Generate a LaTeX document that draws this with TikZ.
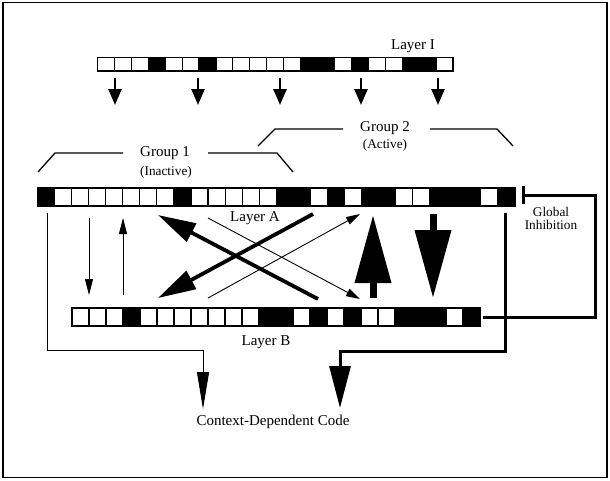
\documentclass[tikz,border=0pt]{standalone}
\usepackage{fontspec}
\setmainfont{Liberation Serif}
\usetikzlibrary{arrows.meta}
\colorlet{c0}{white}
\colorlet{c1}{black}
\newcommand\drawcellrow[5]{%
  \foreach \v [count=\i from 0] in {#5} {
    \filldraw[fill=c\v, draw=black, line width=1.1pt] ({#1+\i*#3},#2) rectangle ++(#3,#4);
  }%
}
\begin{document}
\begin{tikzpicture}[x=1pt,y=-1pt,
  lbl/.style={font=\fontsize{15}{17}\selectfont, inner sep=0pt},
  sml/.style={font=\fontsize{13.3}{14.5}\selectfont, inner sep=0pt},
  rowbox/.style={draw, line width=1.6pt, inner sep=0pt, outer sep=0pt, anchor=north west},
  brk/.style={line width=1.3pt},
  inarr/.style={line width=2.5pt, -{Triangle[length=16pt,width=13pt]}},
  thinarr/.style={line width=0.8pt, -{Triangle[length=16pt,width=8pt]}},
  xthin/.style={line width=0.9pt, -{Triangle[length=14pt,width=8pt]}},
  xthick/.style={line width=3.8pt, -{Triangle[length=38pt,width=20pt]}},
  bigarr/.style={line width=7pt, -{Triangle[length=68pt,width=35pt]}},
  outthin/.style={line width=1pt, -{Triangle[length=37pt,width=12pt]}},
  outthick/.style={line width=3pt, -{Triangle[length=42pt,width=21pt]}},
  inhib/.style={line width=3pt, -{Bar[width=18pt]}},
]
\useasboundingbox (0,0) rectangle (610,480);
\draw[line width=1.3pt] (3,2.5) rectangle (607,477.5);

% Layer I
\drawcellrow{97.3}{57.3}{16.95}{13.5}{0,0,0,1,0,0,1,0,0,0,0,0,1,1,0,1,0,0,1,1,0}
\node[rowbox, minimum width=355.95pt, minimum height=13.5pt] (layerI) at (97.3,57.3) {};
\node[lbl] (labI) at (413,46) {Layer I};

% Layer A
\drawcellrow{37.5}{188}{17.05}{18}{1,0,0,0,0,0,0,0,1,0,0,0,0,0,1,1,0,1,0,1,1,0,0,1,1,1,0,1}
\node[rowbox, minimum width=477.4pt, minimum height=18pt] (layerA) at (37.5,188) {};
\node[lbl] (labA) at (255,218) {Layer A};

% Layer B
\drawcellrow{72}{308}{17}{18}{0,0,0,1,0,0,0,0,0,0,0,1,1,0,1,0,1,0,0,1,1,1,0,1}
\node[rowbox, minimum width=408pt, minimum height=18pt] (layerB) at (72,308) {};
\node[lbl] (labB) at (266,342) {Layer B};

% arrows from Layer I
\foreach \x [count=\k] in {115,198,280,361,438} {
  \coordinate (is\k) at (\x,78);
  \coordinate (ie\k) at (\x,105);
  \draw[inarr] (is\k) -- (ie\k);
}

% Groups
\node[lbl] (g1) at (165,153) {Group 1};
\node[sml] (g1s) at (166,172) {(Inactive)};
\draw[brk] (38,172) -- (55,153) -- (123,153);
\draw[brk] (208,153) -- (277,153) -- (293,172);
\node[lbl] (g2) at (385,128) {Group 2};
\node[sml] (g2s) at (385,145) {(Active)};
\draw[brk] (258,146) -- (275,129) -- (343,129);
\draw[brk] (430,129) -- (497,129) -- (513,146);

% left thin vertical arrows
\coordinate (d1) at (89,218); \coordinate (d2) at (89,295);
\coordinate (u1) at (123,295); \coordinate (u2) at (123,218);
\draw[thinarr] (d1) -- (d2);
\draw[thinarr] (u1) -- (u2);

% crossing thick arrows
\coordinate (ta1) at (313,214); \coordinate (ta2) at (158,298);
\coordinate (tb1) at (318,299); \coordinate (tb2) at (158,215);
\draw[xthick] (ta1) -- (ta2);
\draw[xthick] (tb1) -- (tb2);

% crossing thin arrows
\coordinate (na1) at (208,218); \coordinate (na2) at (360,299);
\coordinate (nb1) at (208,298); \coordinate (nb2) at (360,214);
\draw[xthin] (na1) -- (na2);
\draw[xthin] (nb1) -- (nb2);

% big vertical arrows
\coordinate (bu1) at (373,298); \coordinate (bu2) at (373,215);
\coordinate (bd1) at (433,214); \coordinate (bd2) at (433,298);
\draw[bigarr] (bu1) -- (bu2);
\draw[bigarr] (bd1) -- (bd2);

% Global inhibition
\node[sml, align=center] (ginh) at (551,218.5) {Global\\[-1pt]Inhibition};
\coordinate (gi1) at (483,317);
\coordinate (gi2) at (522,195);
\draw[inhib] (gi1) -- (595,317) -- (595,195) -- (gi2);

% Context-dependent code
\node[lbl] (ctx) at (273,422) {Context-Dependent Code};
\coordinate (ct1) at (47,213); \coordinate (ct2) at (203,409);
\draw[outthin] (ct1) -- (47,350) -- (203,350) -- (ct2);
\coordinate (ck1) at (505,213); \coordinate (ck2) at (340,408);
\draw[outthick] (ck1) -- (505,351.5) -- (340,351.5) -- (ck2);
\end{tikzpicture}
\end{document}
